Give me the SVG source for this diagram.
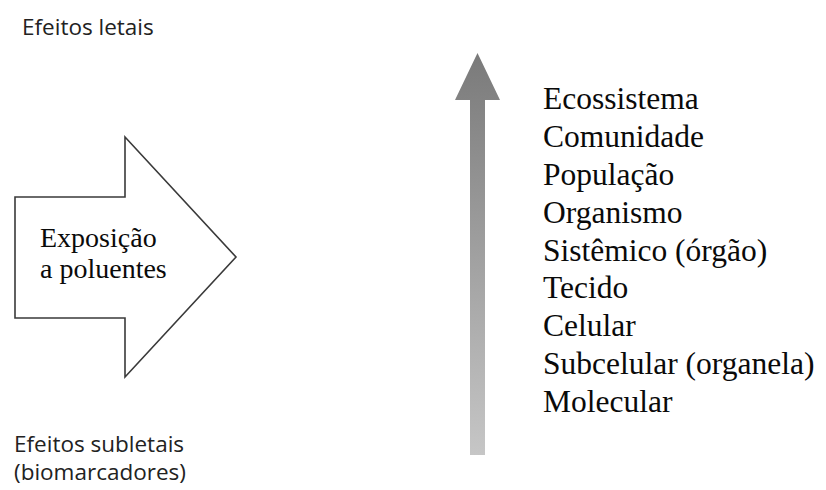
<svg xmlns="http://www.w3.org/2000/svg" width="826" height="490" viewBox="0 0 826 490">
<style>
.sans{font-family:"Open Sans","DejaVu Sans",sans-serif;font-size:22.5px;fill:#222}
.serif{font-family:"Liberation Serif","Times New Roman",serif;fill:#0a0a0a}
.lvl{font-size:31.5px}
.exp{font-size:28px}
</style>
<defs>
<linearGradient id="g" x1="0" y1="0" x2="0" y2="1">
<stop offset="0" stop-color="#7a7a7a"/>
<stop offset="1" stop-color="#c6c6c6"/>
</linearGradient>
</defs>
<rect width="826" height="490" fill="#fff"/>
<g id="labels">
<text class="sans" x="22" y="35">Efeitos letais</text>
<text class="sans" x="14" y="452">Efeitos subletais</text>
<text class="sans" x="14" y="480">(biomarcadores)</text>
</g>
<g id="exposure">
<path d="M15,197 L125,197 L125,137 L236,257 L125,377 L125,318 L15,318 Z" fill="#fff" stroke="#3a3a3a" stroke-width="1.6" stroke-linejoin="miter"/>
<text class="serif exp" x="40" y="247">Exposição</text>
<text class="serif exp" x="40" y="278">a poluentes</text>
</g>
<g id="connectors">
<path d="M470,455 L470,100 L455,100 L477.5,53 L500,100 L485,100 L485,455 Z" fill="url(#g)"/>
</g>
<g id="levels" class="serif lvl">
<text x="543" y="109">Ecossistema</text>
<text x="543" y="147">Comunidade</text>
<text x="543" y="185">População</text>
<text x="543" y="223">Organismo</text>
<text x="543" y="261">Sistêmico (órgão)</text>
<text x="543" y="298">Tecido</text>
<text x="543" y="336">Celular</text>
<text x="543" y="374">Subcelular (organela)</text>
<text x="543" y="412">Molecular</text>
</g>
</svg>
